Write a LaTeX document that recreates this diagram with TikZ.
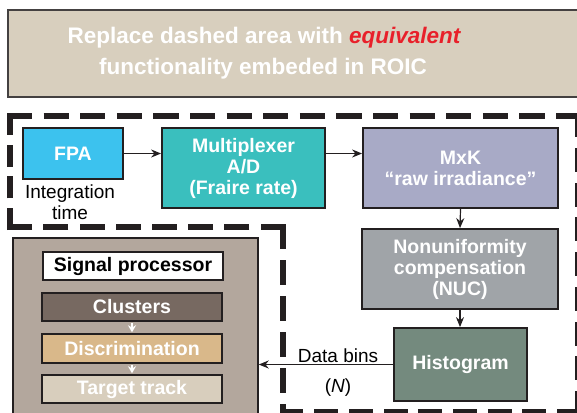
\documentclass[tikz,border=0pt]{standalone}
\usepackage{fontspec}
\setmainfont{Liberation Sans}
\usetikzlibrary{arrows.meta}
\definecolor{titlebg}{HTML}{D8CFBE}
\definecolor{fpacol}{HTML}{3CC2EE}
\definecolor{muxcol}{HTML}{3ABFBE}
\definecolor{mxkcol}{HTML}{A8AAC6}
\definecolor{nuccol}{HTML}{A0A4A8}
\definecolor{histcol}{HTML}{748A7E}
\definecolor{spcol}{HTML}{B3A79D}
\definecolor{clucol}{HTML}{776961}
\definecolor{discol}{HTML}{D9B88A}
\definecolor{tgtcol}{HTML}{D8CEBD}
\definecolor{eqred}{HTML}{E8202A}
\definecolor{ink}{HTML}{231F20}
\tikzset{
  blk/.style={draw=ink, line width=1.8pt, text=white, font=\fontsize{19.5}{21}\selectfont\bfseries, align=center, inner sep=0pt},
  sub/.style={draw=ink, line width=1.5pt, text=white, font=\fontsize{19.5}{21}\selectfont\bfseries, minimum width=180pt, minimum height=28pt, inner sep=0pt},
  lbl/.style={font=\fontsize{19}{20.5}\selectfont, align=center, inner sep=0pt},
  conn/.style={draw=ink, line width=1.2pt, -{Stealth[length=10pt,width=8pt]}},
  wconn/.style={draw=white, line width=1.5pt, -{Stealth[length=7pt,width=8pt]}},
  dsh/.style={draw=ink, line width=6pt}
}
\begin{document}
\begin{tikzpicture}[x=1pt,y=-1pt]
\useasboundingbox (0,0) rectangle (577,412);
\clip (0,0) rectangle (577,412);
\fill[white] (0,0) rectangle (577,412);
% title box
\draw[fill=titlebg, draw=ink!85, line width=2pt] (8,10) rectangle (600,97);
\node[anchor=base, text=white, font=\fontsize{22.5}{27}\selectfont\bfseries, inner sep=0pt] (t1) at (264,44) {Replace dashed area with \textcolor{eqred}{\itshape equivalent}};
\node[anchor=base, text=white, font=\fontsize{22.5}{27}\selectfont\bfseries, inner sep=0pt] (t2) at (263,74) {functionality embeded in ROIC};
% dashed boundary
\draw[dsh, dash pattern=on 25pt off 11pt] (282.5,224) -- (282.5,430);
\draw[dsh, dash pattern=on 25pt off 11.2pt] (285.5,227) -- (7,227);
\draw[dsh, dash pattern=on 21.9pt off 9.8pt] (10,230) -- (10,113);
\draw[dsh, dash pattern=on 25.2pt off 11.4pt] (7,116) -- (581,116);
\draw[dsh, dash pattern=on 24pt off 10.75pt] (578,113) -- (578,415);
\draw[dsh, dash pattern=on 23.9pt off 10.8pt] (581,412) -- (279.5,412);
% main blocks
\node[blk, fill=fpacol, minimum width=100pt, minimum height=51pt] (fpa) at (73,153.5) {FPA};
\node[lbl] (integ) at (70,202) {Integration\\time};
\node[blk, fill=muxcol, minimum width=163pt, minimum height=80pt] (mux) at (243.5,168) {Multiplexer\\A/D\\(Fraire rate)};
\node[blk, fill=mxkcol, minimum width=195pt, minimum height=80pt] (mxk) at (460.5,168) {MxK\\“raw irradiance”};
\node[blk, fill=nuccol, minimum width=196pt, minimum height=80pt] (nuc) at (460,269) {Nonuniformity\\compensation\\(NUC)};
\node[blk, fill=histcol, minimum width=133pt, minimum height=73pt] (hist) at (460.5,364.5) {Histogram};
% signal processor
\node[draw=ink, line width=1.5pt, fill=spcol, minimum width=245pt, minimum height=200pt, inner sep=0pt] (sp) at (135.5,338) {};
\node[sub, fill=white, text=black] (sptitle) at (133,266) {Signal processor};
\node[sub, fill=clucol] (clu) at (132,307) {Clusters};
\node[sub, fill=discol, minimum height=29pt] (dis) at (132,348.5) {Discrimination};
\node[sub, fill=tgtcol] (tgt) at (132,389) {Target track};
% connectors
\draw[conn] (fpa.east) -- (fpa.east -| mux.west);
\draw[conn] (fpa.east -| mux.east) -- (fpa.east -| mxk.west);
\draw[conn] (mxk.south) -- (nuc.north);
\draw[conn] (nuc.south) -- (nuc.south |- hist.north);
\draw[conn] (hist.west) -- (hist.west -| sp.east);
\draw[wconn] ([yshift=-1pt]clu.south) -- ([yshift=1pt]dis.north);
\draw[wconn] ([yshift=-1pt]dis.south) -- ([yshift=1pt]tgt.north);
\node[lbl, anchor=base] (databins) at (338,362) {Data bins};
\node[lbl, anchor=base] (nlbl) at (338,392) {(\textit{N})};
\end{tikzpicture}
\end{document}
